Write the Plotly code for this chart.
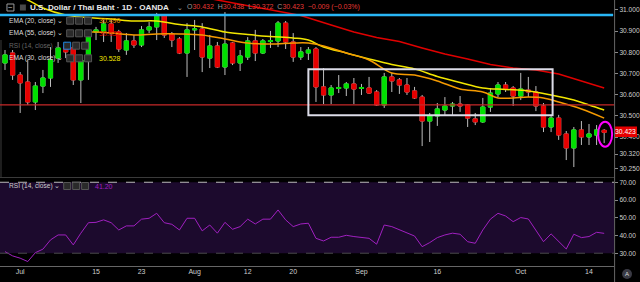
import plotly.graph_objects as go
import pandas as pd

# ---------------- data ----------------
dates = pd.bdate_range("2019-06-27", periods=80).strftime("%Y-%m-%d").tolist()

open_ = [30.750, 30.797, 30.693, 30.660, 30.566, 30.641, 30.679, 30.773, 30.825, 30.821,
         30.670, 30.788, 30.896, 30.896, 30.934, 30.896, 30.811, 30.854, 30.835, 30.906,
         30.920, 30.972, 30.887, 30.863, 30.797, 30.906, 30.910, 30.773, 30.830, 30.731,
         30.844, 30.750, 30.778, 30.854, 30.797, 30.851, 30.854, 30.938, 30.849, 30.778,
         30.797, 30.816, 30.637, 30.599, 30.630, 30.632, 30.651, 30.630, 30.632, 30.613,
         30.552, 30.684, 30.670, 30.646, 30.618, 30.589, 30.476, 30.500, 30.528, 30.547,
         30.556, 30.552, 30.486, 30.472, 30.542, 30.604, 30.646, 30.632, 30.594, 30.622,
         30.613, 30.547, 30.448, 30.490, 30.415, 30.349, 30.434, 30.401, 30.410, 30.432]
high = [30.811, 30.811, 30.707, 30.764, 30.660, 30.717, 30.825, 30.849, 30.849, 30.830,
        30.778, 30.896, 30.920, 30.953, 30.953, 30.906, 30.891, 30.882, 30.924, 30.943,
        30.986, 30.981, 30.896, 30.872, 30.938, 30.953, 30.938, 30.882, 30.849, 30.990,
        30.849, 30.811, 30.872, 30.906, 30.863, 30.901, 30.948, 30.948, 30.891, 30.825,
        30.825, 30.825, 30.726, 30.646, 30.693, 30.660, 30.679, 30.651, 30.684, 30.622,
        30.703, 30.703, 30.679, 30.679, 30.637, 30.599, 30.514, 30.561, 30.589, 30.566,
        30.594, 30.556, 30.514, 30.585, 30.632, 30.660, 30.660, 30.641, 30.703, 30.684,
        30.641, 30.561, 30.505, 30.505, 30.429, 30.448, 30.476, 30.462, 30.457, 30.438]
low = [30.717, 30.670, 30.514, 30.552, 30.528, 30.608, 30.637, 30.750, 30.773, 30.646,
       30.561, 30.670, 30.858, 30.849, 30.849, 30.802, 30.788, 30.821, 30.825, 30.891,
       30.858, 30.868, 30.825, 30.792, 30.684, 30.811, 30.707, 30.726, 30.726, 30.693,
       30.740, 30.712, 30.764, 30.759, 30.792, 30.821, 30.825, 30.816, 30.755, 30.764,
       30.764, 30.566, 30.556, 30.556, 30.608, 30.594, 30.556, 30.599, 30.604, 30.547,
       30.538, 30.613, 30.604, 30.599, 30.580, 30.358, 30.377, 30.453, 30.505, 30.505,
       30.519, 30.448, 30.457, 30.467, 30.519, 30.589, 30.613, 30.547, 30.575, 30.589,
       30.523, 30.424, 30.424, 30.387, 30.292, 30.259, 30.363, 30.363, 30.363, 30.372]
close = [30.788, 30.693, 30.656, 30.566, 30.641, 30.679, 30.764, 30.821, 30.802, 30.670,
         30.764, 30.872, 30.906, 30.934, 30.891, 30.816, 30.854, 30.835, 30.906, 30.920,
         30.976, 30.882, 30.858, 30.797, 30.906, 30.910, 30.778, 30.830, 30.731, 30.839,
         30.750, 30.783, 30.854, 30.797, 30.854, 30.856, 30.938, 30.849, 30.778, 30.802,
         30.811, 30.637, 30.599, 30.632, 30.634, 30.651, 30.627, 30.634, 30.608, 30.552,
         30.684, 30.665, 30.646, 30.613, 30.585, 30.476, 30.500, 30.533, 30.547, 30.556,
         30.547, 30.490, 30.472, 30.542, 30.608, 30.646, 30.627, 30.594, 30.627, 30.613,
         30.547, 30.448, 30.490, 30.410, 30.349, 30.434, 30.401, 30.415, 30.434, 30.423]

rsi = [30.9, 28.5, 27.2, 25.3, 30.3, 32.3, 37.5, 40.3, 40.3, 34.7,
       41.3, 47.2, 47.4, 48.8, 47.2, 43.1, 45.4, 45.4, 49.2, 49.7,
       52.5, 47.2, 46.3, 43.1, 49.7, 49.7, 42.6, 45.9, 41.3, 47.4,
       43.5, 45.0, 49.2, 46.5, 49.2, 49.2, 54.4, 48.8, 45.0, 46.5,
       46.9, 38.4, 36.9, 39.0, 39.0, 40.1, 39.4, 39.0, 38.4, 35.1,
       45.9, 45.0, 43.1, 41.6, 39.7, 33.7, 36.0, 38.8, 40.3, 41.3,
       40.7, 36.5, 35.6, 43.1, 49.2, 52.5, 51.0, 47.8, 50.1, 49.3,
       43.1, 36.5, 40.9, 36.5, 32.4, 40.7, 38.8, 39.4, 41.8, 41.2]

# EMA readings (candle index, value)
ema30_idx = [0, 3, 5, 8, 11, 14, 17, 20, 23, 26, 29, 32, 35, 38, 40, 42, 45, 48, 51, 54,
             57, 60, 63, 66, 69, 72, 75, 77, 79]
ema30_val = [31.085, 31.047, 31.009, 30.976, 30.964, 30.957, 30.948, 30.948, 30.931, 30.920,
             30.896, 30.884, 30.875, 30.868, 30.858, 30.825, 30.797, 30.769, 30.743, 30.722,
             30.686, 30.658, 30.632, 30.625, 30.618, 30.599, 30.575, 30.552, 30.528]
ema20_idx = [11, 12, 14, 17, 20, 23, 26, 29, 32, 35, 38, 40, 42, 45, 48, 51, 54, 57, 60,
             63, 65, 67, 69, 71, 73, 76, 79]
ema20_val = [30.896, 30.896, 30.891, 30.882, 30.887, 30.887, 30.882, 30.863, 30.844, 30.839,
             30.844, 30.844, 30.830, 30.797, 30.764, 30.703, 30.693, 30.665, 30.627, 30.613,
             30.585, 30.585, 30.589, 30.585, 30.566, 30.533, 30.490]
ema55_idx = [20, 28, 33, 39, 43, 46, 49, 52, 55, 58, 61, 64, 67, 70, 73, 76, 79]
ema55_val = [31.100, 31.047, 31.014, 30.974, 30.929, 30.896, 30.870, 30.851, 30.821, 30.792,
             30.769, 30.743, 30.726, 30.717, 30.698, 30.665, 30.632]

resistance_level = 30.976
support_level = 30.552
range_box = dict(x0=40.0, x1=72.2, y0=30.503, y1=30.720)
marker_ellipse = dict(x0=78.2, x1=80.05, y0=30.355, y1=30.473)

tick_dates_idx = [2, 12, 18, 25, 32, 38, 47, 57, 68, 77]
tick_text = ["Jul", "15", "23", "Aug", "12", "20", "Sep", "16", "Oct", "14"]
price_ticks = [31.0, 30.9, 30.8, 30.7, 30.6, 30.5, 30.4, 30.32, 30.25]
rsi_ticks = [70, 60, 50, 40, 30]

# ---------------- styling ----------------
W, H = 640, 282
AX_X = 617
GREEN, RED, WICK = "#00e000", "#e60000", "#bdbdbd"
FONT = "Liberation Sans, Arial, sans-serif"
TXT = "#cfcfcf"


def px(x):
    return x / W


def py(y):
    return 1 - y / H


fig = go.Figure()

# wicks (grey) + bodies
fig.add_trace(go.Candlestick(
    x=dates, open=open_, high=high, low=low, close=close,
    increasing=dict(line=dict(color=WICK, width=1), fillcolor=GREEN),
    decreasing=dict(line=dict(color=WICK, width=1), fillcolor=RED),
    whiskerwidth=0, showlegend=False, hoverinfo="skip", xaxis="x", yaxis="y"))
body_hi = [max(o, c) for o, c in zip(open_, close)]
body_lo = [min(o, c) for o, c in zip(open_, close)]
fig.add_trace(go.Candlestick(
    x=dates, open=open_, high=body_hi, low=body_lo, close=close,
    increasing=dict(line=dict(color=GREEN, width=1), fillcolor=GREEN),
    decreasing=dict(line=dict(color=RED, width=1), fillcolor=RED),
    whiskerwidth=0, showlegend=False, hoverinfo="skip", xaxis="x", yaxis="y"))

fig.add_trace(go.Scatter(x=[dates[i] for i in ema55_idx], y=ema55_val, mode="lines",
                         line=dict(color="#e00000", width=1.5), showlegend=False,
                         hoverinfo="skip", xaxis="x", yaxis="y"))
fig.add_trace(go.Scatter(x=[dates[i] for i in ema30_idx], y=ema30_val, mode="lines",
                         line=dict(color="#f2e600", width=1.5, shape="spline"), showlegend=False,
                         hoverinfo="skip", xaxis="x", yaxis="y"))
fig.add_trace(go.Scatter(x=[dates[i] for i in ema20_idx], y=ema20_val, mode="lines",
                         line=dict(color="#f59a00", width=1.5, shape="spline"), showlegend=False,
                         hoverinfo="skip", xaxis="x", yaxis="y"))

fig.add_trace(go.Scatter(x=dates, y=rsi, mode="lines", line=dict(color="#a020c0", width=1),
                         showlegend=False, hoverinfo="skip", xaxis="x", yaxis="y2"))

shapes = []
# RSI band
shapes.append(dict(type="rect", xref="paper", yref="y2", x0=0, x1=px(AX_X), y0=30, y1=70,
                   fillcolor="#1c0a2d", line=dict(width=0), layer="below"))
shapes.append(dict(type="line", xref="paper", yref="y2", x0=0, x1=px(AX_X), y0=70, y1=70,
                   line=dict(color="#bbbbbb", width=1, dash="dash")))
shapes.append(dict(type="line", xref="paper", yref="y2", x0=0, x1=px(AX_X), y0=30, y1=30,
                   line=dict(color="#4a4a4a", width=1, dash="dash")))
# separators / axis lines
shapes.append(dict(type="line", xref="paper", yref="paper", x0=0, x1=px(AX_X),
                   y0=py(177.5), y1=py(177.5), line=dict(color="#3a3a3a", width=1)))
shapes.append(dict(type="line", xref="paper", yref="paper", x0=0, x1=px(AX_X),
                   y0=py(266.5), y1=py(266.5), line=dict(color="#666666", width=1)))
shapes.append(dict(type="line", xref="paper", yref="paper", x0=px(AX_X + 0.5), x1=px(AX_X + 0.5),
                   y0=0, y1=1, line=dict(color="#666666", width=1)))
shapes.append(dict(type="line", xref="paper", yref="paper", x0=px(1), x1=px(1),
                   y0=py(177), y1=py(40), line=dict(color="#3c3c3c", width=1)))
# horizontal levels
shapes.append(dict(type="line", xref="paper", yref="y", x0=0, x1=px(616),
                   y0=resistance_level, y1=resistance_level,
                   line=dict(color="#29b6f6", width=2.5)))
shapes.append(dict(type="line", xref="paper", yref="y", x0=0, x1=px(AX_X),
                   y0=support_level, y1=support_level,
                   line=dict(color="#c62828", width=1.2)))
# range box and ellipse
shapes.append(dict(type="rect", xref="x", yref="y", **range_box,
                   line=dict(color="#dcdce8", width=2)))
shapes.append(dict(type="circle", xref="x", yref="y", **marker_ellipse,
                   line=dict(color="#ff00ff", width=2)))

# legend icon boxes
def icons(x0, yc, first_blue=False):
    for k in range(3):
        xa = x0 + k * 9
        col = "#1e88e5" if (first_blue and k == 0) else "#555555"
        shapes.append(dict(type="rect", xref="paper", yref="paper", x0=px(xa), x1=px(xa + 7),
                           y0=py(yc + 3.5), y1=py(yc - 3.5), fillcolor="#2a2a2a",
                           line=dict(color=col, width=1), layer="above"))


icons(67, 20.7)
icons(67, 33.3)
icons(64, 45.7, first_blue=True)
icons(67, 58.3)
icons(64, 186)

# last price label
shapes.append(dict(type="rect", xref="paper", yref="paper", x0=px(AX_X + 1), x1=1,
                   y0=py(137), y1=py(126.5), fillcolor="#e60000", line=dict(width=0), layer="above"))
# "A" circle
shapes.append(dict(type="circle", xref="paper", yref="paper", x0=px(625), x1=px(635),
                   y0=py(279), y1=py(269), fillcolor="#3a3a44", line=dict(width=0), layer="above"))
# header square
shapes.append(dict(type="rect", xref="paper", yref="paper", x0=px(7), x1=px(14),
                   y0=py(11), y1=py(4), line=dict(color="#9a9a9a", width=1)))
shapes.append(dict(type="rect", xref="paper", yref="paper", x0=px(20), x1=px(26),
                   y0=py(10.5), y1=py(4.5), fillcolor="#4a4a4a", line=dict(width=0)))

ann = []


def text(x, y, s, size=6.8, color=TXT, anchor="left", bold=False):
    if bold:
        s = "<b>" + s + "</b>"
    ann.append(dict(xref="paper", yref="paper", x=px(x), y=py(y), text=s, showarrow=False,
                    xanchor=anchor, yanchor="middle", font=dict(family=FONT, size=size, color=color)))


ann.append(dict(xref="paper", yref="paper", x=px(10.5), y=py(7.5), text="−", showarrow=False,
                xanchor="center", yanchor="middle", font=dict(family=FONT, size=8, color="#bbbbbb")))
text(28, 7.3, "U.S. Dollar / Thai Baht · 1D · OANDA", size=8.1, color="#e8e8e8", bold=True)
text(176, 7.3, "⌄", size=7, color="#aaaaaa")
R = "#e53935"
ohlc = ("O<span style='color:%s'>30.432</span>  H<span style='color:%s'>30.438</span>  "
        "L<span style='color:%s'>30.372</span>  C<span style='color:%s'>30.423</span>  "
        "<span style='color:%s'>−0.009 (−0.03%%)</span>") % (R, R, R, R, R)
text(186, 7.3, ohlc, size=7, color="#9a9a9a")

text(7, 20.7, "EMA (20, close) ⌄", size=6.6, color="#dddddd")
text(97, 20.7, "30.490", size=7, color="#f59a00")
text(7, 33.3, "EMA (55, close) ⌄", size=6.6, color="#dddddd")
text(97, 33.3, "30.632", size=7, color="#e00000")
text(7, 45.7, "RSI (14, close) ⌄", size=6.6, color="#666666")
text(7, 58.3, "EMA (30, close) ⌄", size=6.6, color="#dddddd")
text(97, 58.3, "30.528", size=7, color="#f2e600")
text(7, 186, "RSI (14, close) ⌄", size=6.6, color="#cccccc")
text(93, 186, "41.20", size=7, color="#a020c0")

text(628.5, 131.8, "30.423", size=6.8, color="#ffffff", anchor="center")
text(630, 274, "A", size=6, color="#dddddd", anchor="center")

fig.update_layout(
    width=W, height=H, margin=dict(l=0, r=0, t=0, b=0),
    paper_bgcolor="#000000", plot_bgcolor="#000000",
    boxgap=0.22, showlegend=False,
    xaxis=dict(type="category", domain=[0, px(AX_X)], anchor="y2",
               range=[-0.66, 80.31], rangeslider=dict(visible=False),
               tickvals=[dates[i] for i in tick_dates_idx], ticktext=tick_text,
               tickfont=dict(family=FONT, size=7, color=TXT), ticks="",
               showgrid=False, zeroline=False, showline=False),
    yaxis=dict(domain=[py(177), 1], range=[30.212, 31.047], side="right", anchor="x",
               tickvals=price_ticks, ticktext=["%.3f" % v for v in price_ticks],
               tickfont=dict(family=FONT, size=6.6, color=TXT), ticks="outside",
               ticklen=3, tickcolor="#888888", showgrid=False, zeroline=False),
    yaxis2=dict(domain=[py(266), py(178)], range=[22.8, 72.4], side="right", anchor="x",
                tickvals=rsi_ticks, ticktext=["%.2f" % v for v in rsi_ticks],
                tickfont=dict(family=FONT, size=6.6, color=TXT), ticks="outside",
                ticklen=3, tickcolor="#888888", showgrid=False, zeroline=False),
    shapes=shapes, annotations=ann,
)

fig.write_html("out.html")
